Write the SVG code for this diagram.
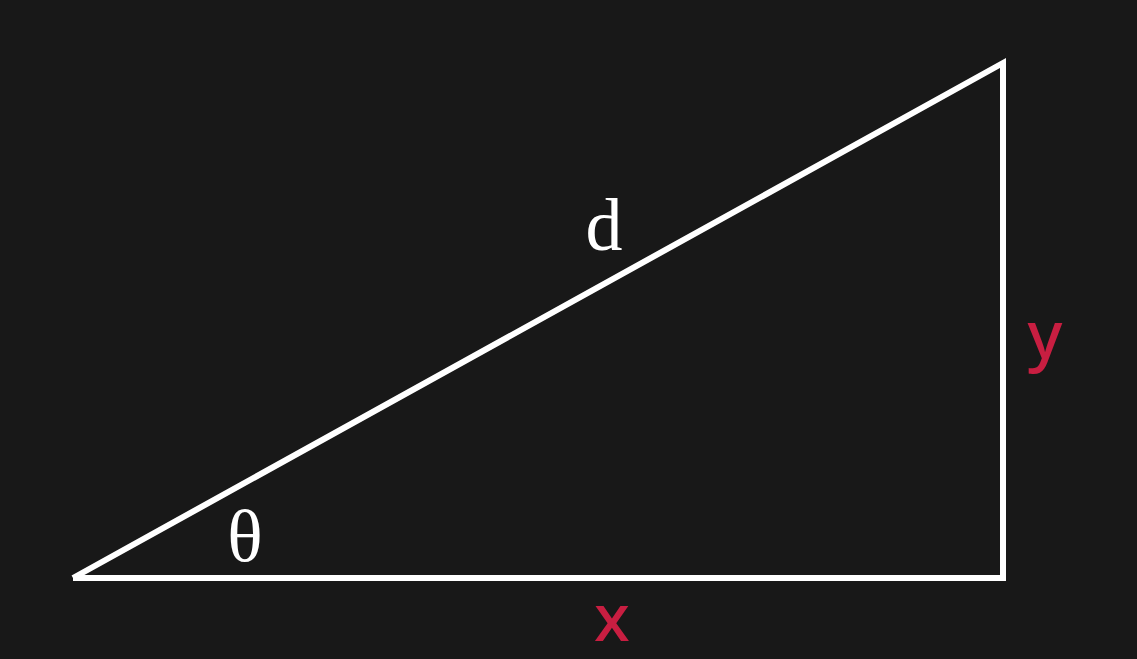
<svg xmlns="http://www.w3.org/2000/svg" width="1137" height="659" viewBox="0 0 1137 659">
<style>
.edge{fill:none;stroke:#ffffff;stroke-width:6;stroke-linejoin:miter;stroke-linecap:butt}
.lbl{fill:#ffffff;font-family:"Liberation Serif","DejaVu Serif",serif;font-size:74px}
.var{fill:#c81e41;font-family:"Noto Sans","Liberation Sans",sans-serif;font-size:66px;font-weight:500}
</style>
<rect width="1137" height="659" fill="#181818"/>
<g id="connectors">
<path class="edge" d="M73,578 L1003,63 L1003,578 L73,578"/>
</g>
<g id="label-d"><text class="lbl" x="604" y="250" text-anchor="middle">d</text></g>
<g id="label-theta"><text class="lbl" x="245" y="561" text-anchor="middle">θ</text></g>
<g id="label-x"><text class="var" x="612" y="641" text-anchor="middle">x</text></g>
<g id="label-y"><text class="var" x="1045" y="358" text-anchor="middle">y</text></g>
</svg>
